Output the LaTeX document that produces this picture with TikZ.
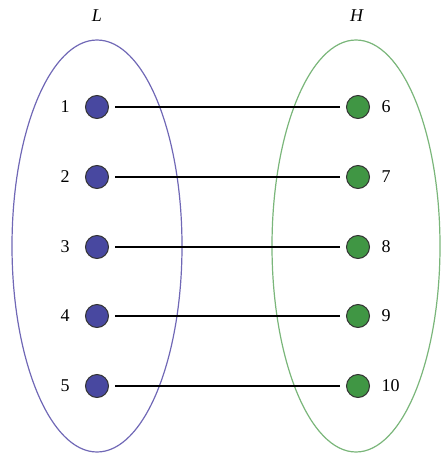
\documentclass[tikz,border=0pt]{standalone}
\usepackage{fontspec}
\setmainfont{Liberation Serif}
\definecolor{lblue}{RGB}{112,104,182}
\definecolor{dblue}{RGB}{72,72,160}
\definecolor{lgreen}{RGB}{122,182,122}
\definecolor{dgreen}{RGB}{64,150,68}
\begin{document}
\begin{tikzpicture}[x=1pt,y=-1pt,
  bdot/.style={circle,draw=black!80,line width=1pt,fill=dblue,minimum size=23pt,inner sep=0pt},
  gdot/.style={circle,draw=black!80,line width=1pt,fill=dgreen,minimum size=23pt,inner sep=0pt},
  lab/.style={font=\fontsize{18}{20}\selectfont},
  link/.style={line width=1.4pt,black}]
\useasboundingbox (0,0) rectangle (446,457);
\draw[lblue,line width=1.2pt] (97,246) ellipse [x radius=85, y radius=206];
\draw[lgreen,line width=1.2pt] (356,246) ellipse [x radius=84, y radius=206];
\node[lab] (L) at (97,16) {\textit{L}};
\node[lab] (H) at (357,16) {\textit{H}};
\foreach \i/\y in {1/107,2/177,3/247,4/316,5/386}{
  \node[bdot] (b\i) at (97,\y) {};
  \node[lab] (lb\i) at (65,\y) {\i};
}
\foreach \i/\y in {6/107,7/177,8/247,9/316,10/386}{
  \node[gdot] (g\i) at (358,\y) {};
  \node[lab,anchor=west] (lg\i) at (378,\y) {\i};
}
\foreach \a/\b in {1/6,2/7,3/8,4/9,5/10}{
  \draw[link] ([xshift=6pt]b\a.east) -- ([xshift=-6pt]g\b.west);
}
\end{tikzpicture}
\end{document}
